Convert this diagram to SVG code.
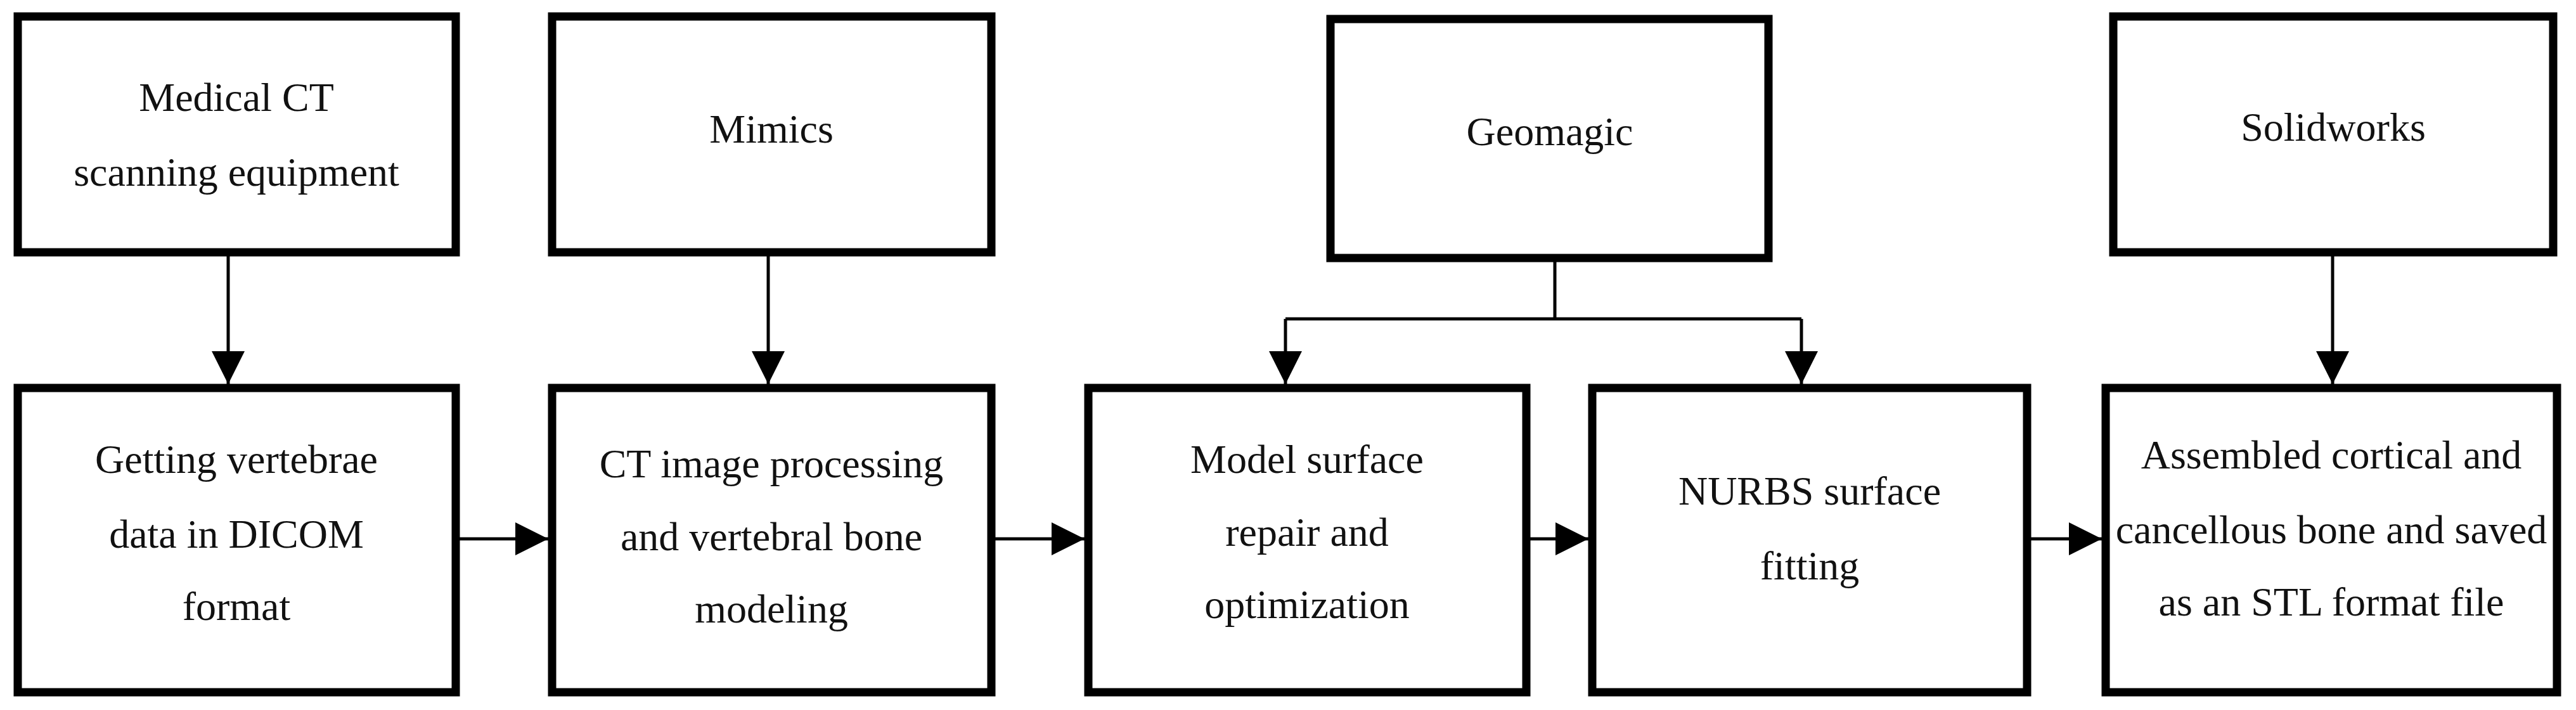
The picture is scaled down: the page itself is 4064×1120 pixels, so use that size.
<svg xmlns="http://www.w3.org/2000/svg" width="4064" height="1120" viewBox="0 0 4064 1120">
<style>
.b{fill:#fff;stroke:#000;stroke-width:13}
.t{font-family:"Liberation Serif",serif;font-size:64px;text-anchor:middle;fill:#111}
.c{fill:none;stroke:#000;stroke-width:5}
</style>
<defs><marker id="a" markerUnits="userSpaceOnUse" markerWidth="52" markerHeight="52" refX="52" refY="26" orient="auto"><path d="M0,0L52,26L0,52Z" fill="#000"/></marker></defs>
<rect width="4064" height="1120" fill="#fff"/>
<g id="n1"><rect class="b" x="28" y="26" width="691" height="372"/><text class="t" x="373" y="175">Medical CT</text><text class="t" x="373" y="293">scanning equipment</text></g>
<g id="n2"><rect class="b" x="871" y="26" width="693" height="372"/><text class="t" x="1217" y="225">Mimics</text></g>
<g id="n3"><rect class="b" x="2099" y="30" width="691" height="377"/><text class="t" x="2445" y="229">Geomagic</text></g>
<g id="n4"><rect class="b" x="3334" y="26" width="694" height="372"/><text class="t" x="3681" y="222">Solidworks</text></g>
<g id="n5"><rect class="b" x="28" y="612" width="691" height="480"/><text class="t" x="373" y="746">Getting vertebrae</text><text class="t" x="373" y="864">data in DICOM</text><text class="t" x="373" y="978">format</text></g>
<g id="n6"><rect class="b" x="871" y="612" width="693" height="480"/><text class="t" x="1217" y="753">CT image processing</text><text class="t" x="1217" y="868">and vertebral bone</text><text class="t" x="1217" y="982">modeling</text></g>
<g id="n7"><rect class="b" x="1717" y="612" width="691" height="480"/><text class="t" x="2062" y="746">Model surface</text><text class="t" x="2062" y="861">repair and</text><text class="t" x="2062" y="975">optimization</text></g>
<g id="n8"><rect class="b" x="2512" y="612" width="686" height="480"/><text class="t" x="2855" y="796">NURBS surface</text><text class="t" x="2855" y="914">fitting</text></g>
<g id="n9"><rect class="b" x="3322" y="612" width="712" height="480"/><text class="t" x="3678" y="739">Assembled cortical and</text><text class="t" x="3678" y="857">cancellous bone and saved</text><text class="t" x="3678" y="971">as an STL format file</text></g>
<g id="connectors">
<path class="c" d="M360,404V606" marker-end="url(#a)"/>
<path class="c" d="M1212,404V606" marker-end="url(#a)"/>
<path class="c" d="M3680,404V606" marker-end="url(#a)"/>
<path class="c" d="M2453,413V503"/>
<path class="c" d="M2028,503H2842"/>
<path class="c" d="M2028,503V606" marker-end="url(#a)"/>
<path class="c" d="M2842,503V606" marker-end="url(#a)"/>
<path class="c" stroke-width="7" d="M725,850H865" marker-end="url(#a)"/>
<path class="c" stroke-width="7" d="M1570,850H1711" marker-end="url(#a)"/>
<path class="c" stroke-width="7" d="M2414,850H2506" marker-end="url(#a)"/>
<path class="c" stroke-width="7" d="M3204,850H3316" marker-end="url(#a)"/>
</g>
</svg>
